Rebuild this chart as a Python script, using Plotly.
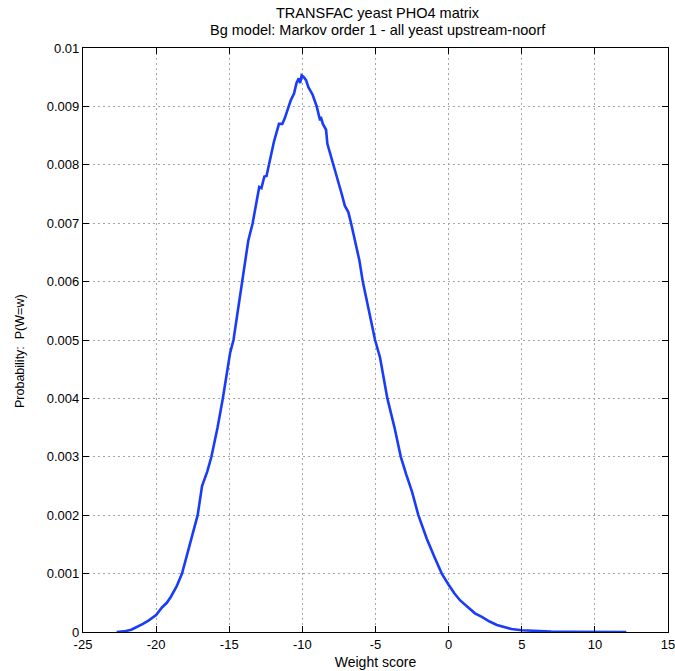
import plotly.graph_objects as go

# Weight score (x) and probability P(W=w) (y)
weight_score = [
    -22.7, -22.2, -21.7, -21.2, -20.9, -20.5, -20.0, -19.6, -19.27, -19.0,
    -18.6, -18.23, -17.9, -17.7, -17.4, -17.16, -16.86, -16.5, -16.22, -15.8,
    -15.44, -15.2, -14.94, -14.71, -14.4, -14.1, -13.91, -13.7, -13.4, -13.13,
    -12.95, -12.8, -12.6, -12.45, -12.27, -11.95, -11.6, -11.37, -11.2, -10.96,
    -10.8, -10.57, -10.4, -10.25, -10.15, -10.05, -9.9, -9.75, -9.59, -9.3,
    -9.02, -8.79, -8.74, -8.6, -8.38, -8.29, -7.88, -7.6, -7.31, -7.1,
    -6.86, -6.67, -6.4, -6.1, -5.87, -5.42, -5.03, -4.69, -4.19, -3.7,
    -3.27, -2.9, -2.5, -2.07, -1.5, -1.0, -0.47, 0.0, 0.4, 0.79,
    1.3, 1.8, 2.27, 2.8, 3.3, 3.75, 4.3, 5.0, 6.0, 7.0,
    8.0, 9.0, 10.0, 12.15,
]
probability = [
    0.0, 0.00001, 0.00004, 0.0001, 0.00014, 0.0002, 0.00029, 0.00042, 0.0005, 0.0006,
    0.00078, 0.001, 0.0013, 0.0015, 0.0018, 0.002, 0.0025, 0.00275, 0.003, 0.0035,
    0.004, 0.0044, 0.00478, 0.005, 0.0055, 0.006, 0.00636, 0.0067, 0.007, 0.0074,
    0.00762, 0.0076, 0.0078, 0.00781, 0.008, 0.00839, 0.0087, 0.0087, 0.0088, 0.009,
    0.0091, 0.00922, 0.0094, 0.00948, 0.0094, 0.00953, 0.0095, 0.00945, 0.00933, 0.0092,
    0.009, 0.00876, 0.00882, 0.0087, 0.0086, 0.00836, 0.008, 0.0078, 0.0075, 0.0073,
    0.00719, 0.007, 0.0067, 0.00636, 0.006, 0.00545, 0.005, 0.0047, 0.004, 0.0035,
    0.003, 0.0027, 0.0024, 0.002, 0.0016, 0.0013, 0.001, 0.00081, 0.00066, 0.00054,
    0.00042, 0.00032, 0.00026, 0.00018, 0.00012, 0.00009, 0.00005, 0.00003, 0.000015, 0.000008,
    0.000004, 0.000002, 0.000001, 0.0000005,
]

x_ticks = [-25, -20, -15, -10, -5, 0, 5, 10, 15]
x_tick_labels = ["-25", "-20", "-15", "-10", "-5", "0", "5", "10", "15"]
y_ticks = [0, 0.001, 0.002, 0.003, 0.004, 0.005, 0.006, 0.007, 0.008, 0.009, 0.01]
y_tick_labels = ["0", "0.001", "0.002", "0.003", "0.004", "0.005", "0.006",
                 "0.007", "0.008", "0.009", "0.01"]

title_lines = ["TRANSFAC yeast PHO4 matrix",
               "Bg model: Markov order 1 - all yeast upstream-noorf"]
x_title = "Weight score"
y_title = "Probability:  P(W=w)"

FONT = "Liberation Sans, Arial, Helvetica, sans-serif"

fig = go.Figure()
fig.add_trace(go.Scatter(
    x=weight_score, y=probability, mode="lines",
    line=dict(color="rgb(25,60,250)", width=2.6),
    showlegend=False, hoverinfo="x+y",
))

axis_common = dict(
    showline=True, linecolor="black", linewidth=1.2, mirror="ticks",
    ticks="inside", ticklen=6, tickwidth=1.2, tickcolor="black",
    showgrid=True, gridcolor="rgb(165,165,165)", griddash="2px,3px", gridwidth=1,
    zeroline=False, automargin=False, ticklabeloverflow="allow",
    tickfont=dict(family=FONT, size=13, color="black"),
)

fig.update_layout(
    width=675, height=671,
    paper_bgcolor="white", plot_bgcolor="white",
    margin=dict(l=83, r=7, t=48, b=39, autoexpand=False),
    font=dict(family=FONT, size=13, color="black"),
    xaxis=dict(
        range=[-25, 15], tickvals=x_ticks, ticktext=x_tick_labels,
        title=dict(text=x_title, standoff=6,
                   font=dict(family=FONT, size=14, color="black")),
        **axis_common,
    ),
    yaxis=dict(
        range=[0, 0.01], tickvals=y_ticks, ticktext=y_tick_labels,
        **axis_common,
    ),
    annotations=[
        dict(text=title_lines[0], xref="paper", yref="paper", x=0.5, y=1,
             xanchor="center", yanchor="middle", xshift=2, yshift=35,
             showarrow=False, font=dict(family=FONT, size=14.5, color="black")),
        dict(text=title_lines[1], xref="paper", yref="paper", x=0.5, y=1,
             xanchor="center", yanchor="middle", xshift=2, yshift=18.5,
             showarrow=False, font=dict(family=FONT, size=14.5, color="black")),
        dict(text=y_title, xref="paper", yref="paper", x=0, y=0.5,
             xanchor="center", yanchor="middle", xshift=-63, yshift=-11,
             textangle=-90, showarrow=False,
             font=dict(family=FONT, size=12.5, color="black")),
    ],
)

fig.write_html(
    "out.html",
    config={"displayModeBar": False},
    post_script="document.body.style.margin='0';"
                "document.documentElement.style.overflow='hidden';"
                "document.body.style.overflow='hidden';",
)
